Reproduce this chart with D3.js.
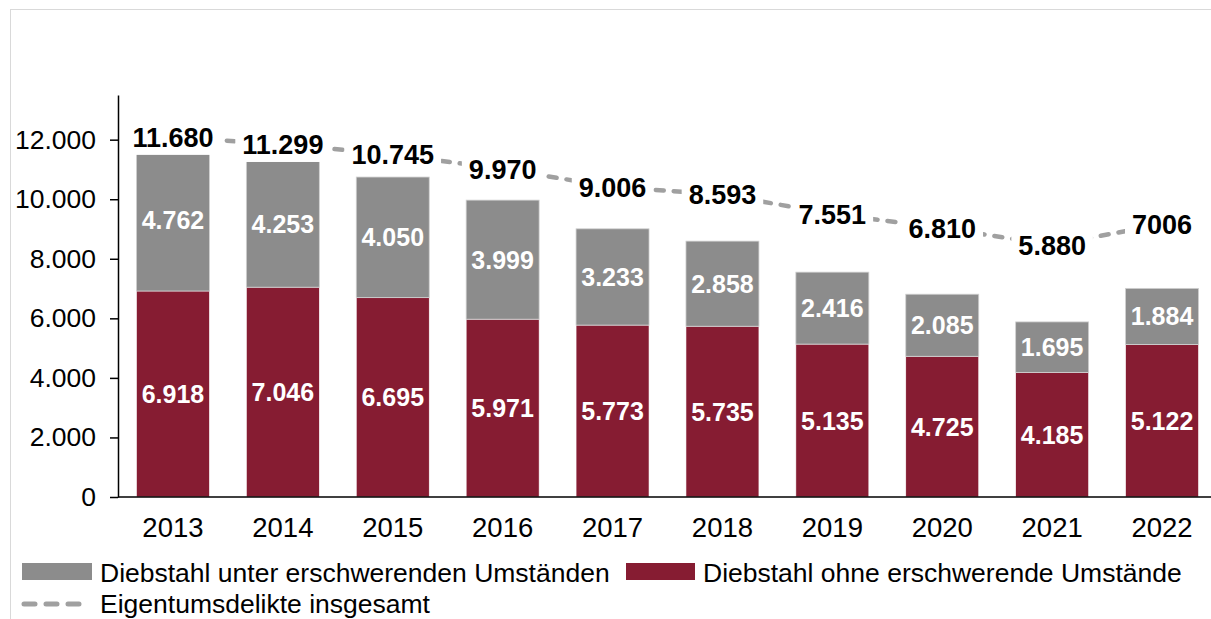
<!DOCTYPE html>
<html>
<head>
<meta charset="utf-8">
<script src="https://cdn.jsdelivr.net/npm/d3@7"></script>
<style>
    body { margin: 0; background: #fff; }
    svg { display: block; font-family: "Liberation Sans", Arial, sans-serif; }
</style>
</head>
<body>
<div id="chart"></div>
<script>
// data
var years = ["2013", "2014", "2015", "2016", "2017", "2018", "2019", "2020", "2021", "2022"];
var ohne = [6918, 7046, 6695, 5971, 5773, 5735, 5135, 4725, 4185, 5122];
var unter = [4762, 4253, 4050, 3999, 3233, 2858, 2416, 2085, 1695, 1884];
var insgesamt = [11680, 11299, 10745, 9970, 9006, 8593, 7551, 6810, 5880, 7006];
var insgesamtLabels = ["11.680", "11.299", "10.745", "9.970", "9.006", "8.593", "7.551", "6.810", "5.880", "7006"];
var yTicks = [0, 2000, 4000, 6000, 8000, 10000, 12000];

var width = 1211,
    height = 619,
    plot = { left: 118, right: 1217, top: 95, bottom: 497 },
    colorUnter = "#8c8c8c",
    colorOhne = "#861c32",
    colorLine = "#a0a0a0";

var de = d3.formatLocale({ decimal: ",", thousands: ".", grouping: [3], currency: ["", " €"] });
var fmt = de.format(",d");

var svg = d3.select("#chart")
    .append("svg")
    .attr("width", width)
    .attr("height", height);

// frame
svg.append("rect")
    .attr("x", 10.5)
    .attr("y", 9.5)
    .attr("width", 1300)
    .attr("height", 700)
    .attr("fill", "none")
    .attr("stroke", "#d9d9d9");

var x = d3.scaleBand()
    .domain(years)
    .range([plot.left, plot.right])
    .paddingInner(0.336)
    .paddingOuter(0.168);

var y = d3.scaleLinear()
    .domain([0, 13500])
    .range([plot.bottom, plot.top]);

// hidden secondary axis for the total line
var y2 = d3.scaleLinear()
    .domain([0, 14000])
    .range([354.5, 94]);

var data = years.map(function (d, i) {
    return { year: d, ohne: ohne[i], unter: unter[i], total: insgesamt[i], label: insgesamtLabels[i] };
});

// bars
var bar = svg.append("g").selectAll("g")
    .data(data)
    .enter()
    .append("g");

bar.append("rect")
    .attr("x", function (d) { return x(d.year); })
    .attr("width", x.bandwidth())
    .attr("y", function (d) { return y(d.ohne); })
    .attr("height", function (d) { return y(0) - y(d.ohne); })
    .attr("fill", colorOhne)
    .attr("stroke", "#fff")
    .attr("stroke-width", 0.6);

bar.append("rect")
    .attr("x", function (d) { return x(d.year); })
    .attr("width", x.bandwidth())
    .attr("y", function (d) { return y(d.ohne + d.unter); })
    .attr("height", function (d) { return y(d.ohne) - y(d.ohne + d.unter); })
    .attr("fill", colorUnter)
    .attr("stroke", "#d0d0d0")
    .attr("stroke-width", 0.8);

bar.append("text")
    .attr("x", function (d) { return x(d.year) + x.bandwidth() / 2; })
    .attr("y", function (d) { return (y(0) + y(d.ohne)) / 2; })
    .attr("dy", "0.36em")
    .attr("text-anchor", "middle")
    .attr("fill", "#fff")
    .attr("font-weight", "bold")
    .attr("font-size", 25)
    .text(function (d) { return fmt(d.ohne); });

bar.append("text")
    .attr("x", function (d) { return x(d.year) + x.bandwidth() / 2; })
    .attr("y", function (d) { return (y(d.ohne) + y(d.ohne + d.unter)) / 2; })
    .attr("dy", "0.36em")
    .attr("text-anchor", "middle")
    .attr("fill", "#fff")
    .attr("font-weight", "bold")
    .attr("font-size", 25)
    .text(function (d) { return fmt(d.unter); });

// axes
var yAxis = d3.axisLeft(y)
    .tickValues(yTicks)
    .tickFormat(fmt)
    .tickSizeInner(8)
    .tickSizeOuter(0)
    .tickPadding(14);

var gy = svg.append("g")
    .attr("transform", "translate(" + plot.left + ",0)")
    .call(yAxis);

var xAxis = d3.axisBottom(x)
    .tickSize(0)
    .tickPadding(20);

var gx = svg.append("g")
    .attr("transform", "translate(0," + plot.bottom + ")")
    .call(xAxis);

gy.selectAll("text").attr("font-size", 26.5);
gx.selectAll("text").attr("font-size", 27.5);
[gx, gy].forEach(function (g) {
    g.selectAll("text").attr("fill", "#000").attr("font-family", null);
    g.selectAll("path, line").attr("stroke", "#000").attr("stroke-width", 1.5);
});
gx.select(".domain").attr("d", "M" + plot.left + ",0H" + width);

// total line
var line = d3.line()
    .x(function (d) { return x(d.year) + x.bandwidth() / 2; })
    .y(function (d) { return y2(d.total); });

svg.append("path")
    .datum(data)
    .attr("d", line)
    .attr("fill", "none")
    .attr("stroke", colorLine)
    .attr("stroke-width", 4.5)
    .attr("stroke-linecap", "round")
    .attr("stroke-dasharray", "8,10");

var tot = svg.append("g").selectAll("g")
    .data(data)
    .enter()
    .append("g")
    .attr("transform", function (d) {
        return "translate(" + (x(d.year) + x.bandwidth() / 2) + "," + y2(d.total) + ")";
    });

tot.append("text")
    .attr("dy", "0.36em")
    .attr("text-anchor", "middle")
    .attr("font-weight", "bold")
    .attr("font-size", 27)
    .attr("fill", "#000")
    .text(function (d) { return d.label; });

tot.each(function () {
    var g = d3.select(this),
        b = g.select("text").node().getBBox();
    g.insert("rect", "text")
        .attr("x", b.x - 7)
        .attr("y", b.y - 2)
        .attr("width", b.width + 14)
        .attr("height", b.height + 4)
        .attr("fill", "#fff");
});

// legend
var legend = svg.append("g").attr("font-size", 26.5);

legend.append("rect").attr("x", 22).attr("y", 563).attr("width", 70).attr("height", 17).attr("fill", colorUnter);
legend.append("text").attr("x", 100).attr("y", 572).attr("dy", "0.36em").text("Diebstahl unter erschwerenden Umständen");

legend.append("rect").attr("x", 626).attr("y", 563).attr("width", 69).attr("height", 17).attr("fill", colorOhne);
legend.append("text").attr("x", 703).attr("y", 572).attr("dy", "0.36em").text("Diebstahl ohne erschwerende Umstände");

legend.append("line")
    .attr("x1", 24).attr("x2", 84).attr("y1", 604).attr("y2", 604)
    .attr("stroke", colorLine)
    .attr("stroke-width", 5)
    .attr("stroke-linecap", "round")
    .attr("stroke-dasharray", "11,11");
legend.append("text").attr("x", 100).attr("y", 603).attr("dy", "0.36em").text("Eigentumsdelikte insgesamt");
</script>
</body>
</html>
